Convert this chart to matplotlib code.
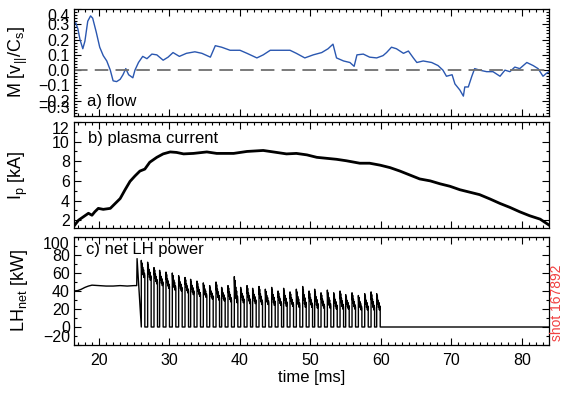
import numpy as np
import matplotlib
matplotlib.use("Agg")
import matplotlib.pyplot as plt
from matplotlib.ticker import MultipleLocator

# ---- data ----
# a) flow, Mach number
flow_t = [16.45, 16.7, 17.0, 17.3, 17.7, 18.0, 18.4, 18.8, 19.1, 19.6,
          20.1, 20.6, 21.1, 21.6, 22.0, 22.5, 23.0, 23.4, 23.8, 24.2,
          24.8, 25.1, 25.6, 26.2, 26.8, 27.5, 28.2, 29.1, 29.8, 30.5,
          31.4, 32.4, 33.6, 34.6, 35.8, 36.5, 37.4, 38.6, 40.0, 41.0,
          42.4, 43.3, 44.3, 45.7, 47.1, 48.0, 49.2, 50.4, 51.6, 52.5,
          53.2, 53.7, 54.7, 55.6, 56.2, 56.6, 57.5, 58.4, 59.4, 60.3,
          60.8, 61.5, 62.2, 63.2, 63.9, 64.6, 65.1, 66.0, 67.2, 68.1,
          68.8, 69.3, 70.1, 70.5, 71.2, 71.7, 71.9, 72.4, 72.9, 73.3,
          74.0, 75.0, 75.9, 76.9, 77.6, 78.3, 79.0, 79.7, 80.7, 81.6,
          82.3, 83.0, 83.5, 83.85]
flow_m = [0.30, 0.31, 0.27, 0.20, 0.14, 0.19, 0.32, 0.355, 0.34, 0.25,
          0.15, 0.095, 0.06, 0.0, -0.07, -0.075, -0.06, -0.03, 0.01, -0.03,
          -0.05, 0.0, 0.05, 0.09, 0.075, 0.105, 0.10, 0.065, 0.085, 0.115,
          0.09, 0.11, 0.12, 0.11, 0.085, 0.16, 0.15, 0.13, 0.13, 0.11,
          0.08, 0.10, 0.13, 0.13, 0.13, 0.11, 0.08, 0.10, 0.115, 0.14,
          0.17, 0.08, 0.06, 0.05, 0.025, 0.10, 0.105, 0.085, 0.08, 0.095,
          0.115, 0.15, 0.14, 0.11, 0.125, 0.08, 0.05, 0.06, 0.05, 0.03,
          0.0, -0.04, -0.03, -0.09, -0.13, -0.17, -0.11, -0.11, -0.04, 0.01,
          0.0, -0.01, -0.01, -0.04, 0.0, -0.01, 0.02, 0.01, 0.05, 0.03,
          0.01, -0.04, -0.02, -0.01]

# b) plasma current [kA]
ip_t = [16.45, 17.1, 17.8, 18.5, 19.0, 19.4, 19.9, 20.6, 21.6, 22.3,
        23.0, 23.7, 24.4, 25.1, 25.8, 26.5, 27.2, 28.2, 29.1, 30.1,
        31.0, 32.0, 33.4, 35.3, 36.7, 39.1, 41.0, 43.3, 45.2, 46.6,
        48.0, 49.5, 50.9, 52.3, 53.7, 55.1, 57.0, 58.4, 59.9, 61.3,
        62.7, 64.1, 65.5, 67.0, 68.4, 69.8, 71.2, 72.6, 74.0, 75.5,
        76.9, 78.3, 79.7, 81.1, 82.6, 83.85]
ip_ka = [1.4, 2.0, 2.35, 2.7, 2.5, 2.85, 3.2, 3.1, 3.2, 3.7,
         4.2, 5.1, 5.95, 6.5, 7.0, 7.2, 7.9, 8.4, 8.75, 8.95,
         8.9, 8.75, 8.8, 8.95, 8.8, 8.8, 9.0, 9.1, 8.9, 8.75,
         8.8, 8.65, 8.4, 8.3, 8.2, 8.05, 7.8, 7.8, 7.6, 7.35,
         7.0, 6.6, 6.2, 6.0, 5.7, 5.45, 5.1, 4.85, 4.6, 4.15,
         3.7, 3.3, 2.85, 2.45, 2.1, 1.5]

# c) net LH power [kW]: steady part, then modulated pulses
lh_pre_t = [16.45, 17.0, 17.5, 18.0, 18.5, 19.0, 20.0, 21.0, 22.0, 23.0,
            24.0, 25.0, 25.35, 25.4, 25.95]
lh_pre_kw = [40, 40.5, 42, 44, 45.5, 46.5, 46, 45.5, 45.5, 46,
             45.5, 46, 46, 76, 8]
pulse_on = [26.0, 26.9, 27.8, 28.6, 29.5, 30.4, 31.3, 32.2, 33.0, 33.9,
            34.8, 35.7, 36.6, 37.4, 38.3, 39.2, 40.1, 41.0, 41.8, 42.7,
            43.6, 44.5, 45.4, 46.2, 47.1, 48.0, 48.9, 49.8, 50.6, 51.5,
            52.4, 53.3, 54.2, 55.0, 55.9, 56.8, 57.7, 58.6, 59.4]
pulse_peak = [74, 72, 66, 63, 61, 60, 57, 55, 53, 51,
              49, 46, 50, 44, 46, 56, 44, 46, 43, 45,
              42, 44, 40, 43, 39, 42, 45, 40, 42, 38,
              41, 38, 40, 36, 38, 35, 37, 39, 37]
pulse_base = [55, 52, 48, 46, 43, 41, 40, 38, 36, 34,
              33, 31, 30, 29, 28, 27, 27, 26, 26, 25,
              25, 24, 24, 23, 23, 22, 22, 22, 21, 21,
              21, 20, 20, 20, 20, 19, 19, 19, 19]
pulse_len = 0.5
lh_end_t = 83.85

# shape of one RF pulse (time fraction of pulse, level between base and peak)
shape_dt = [0.0, 0.10, 0.18, 0.28, 0.40, 0.52, 0.64, 0.76, 0.88, 1.0]
shape_lv = [1.0, 0.55, 0.85, 0.35, 0.6, 0.15, 0.45, 0.0, 0.25, 0.1]

lh_t = list(lh_pre_t)
lh_p = list(lh_pre_kw)
for t0, pk, bs in zip(pulse_on, pulse_peak, pulse_base):
    lh_t.append(t0)
    lh_p.append(0)
    for f, lv in zip(shape_dt, shape_lv):
        lh_t.append(t0 + f * pulse_len)
        lh_p.append(bs + lv * (pk - bs))
    lh_t.append(t0 + pulse_len)
    lh_p.append(0)
lh_t.append(lh_end_t)
lh_p.append(0)

# ---- figure ----
plt.rcParams['font.family'] = ['Liberation Sans', 'DejaVu Sans']
plt.rcParams['font.size'] = 12
plt.rcParams['mathtext.fontset'] = 'custom'
plt.rcParams['mathtext.rm'] = 'Liberation Sans'
plt.rcParams['mathtext.it'] = 'Liberation Sans'

fig = plt.figure(figsize=(5.68, 3.94), dpi=100)
W, H = 568.0, 394.0
left, right = 74, 549


def make_ax(top, bottom):
    return fig.add_axes([left / W, 1 - bottom / H, (right - left) / W, (bottom - top) / H])


ax1 = make_ax(9, 116)
ax2 = make_ax(122, 228)
ax3 = make_ax(237, 345)

ax1.plot(flow_t, flow_m, color='#2a57b0', lw=1.0)
ax1.axhline(0, color='#707070', lw=1.3, ls=(0, (7.5, 4)))
ax1.set_ylim(-0.3, 0.4)
ax1.yaxis.set_major_locator(MultipleLocator(0.1))
ax1.yaxis.set_minor_locator(MultipleLocator(0.02))
ax1.set_ylabel(r'M [v$_{||}$/C$_s$]', fontsize=13)
ax1.text(0.027, 0.135, 'a) flow', transform=ax1.transAxes, va='center', ha='left')

ax2.plot(ip_t, ip_ka, color='black', lw=2.0)
ax2.set_ylim(1.2, 12)
ax2.yaxis.set_major_locator(MultipleLocator(2))
ax2.yaxis.set_minor_locator(MultipleLocator(1))
ax2.set_ylabel(r'I$_p$ [kA]', fontsize=13)
ax2.text(0.03, 0.846, 'b) plasma current', transform=ax2.transAxes, va='center', ha='left')

ax3.plot(lh_t, lh_p, color='black', lw=1.0)
ax3.set_ylim(-20, 100)
ax3.yaxis.set_major_locator(MultipleLocator(20))
ax3.yaxis.set_minor_locator(MultipleLocator(10))
ax3.set_ylabel(r'LH$_{net}$ [kW]', fontsize=13)
ax3.text(0.025, 0.886, 'c) net LH power', transform=ax3.transAxes, va='center', ha='left')
ax3.set_xlabel('time [ms]', labelpad=1)

for ax in (ax1, ax2, ax3):
    ax.set_xlim(16.45, 83.85)
    ax.xaxis.set_major_locator(MultipleLocator(10))
    ax.xaxis.set_minor_locator(MultipleLocator(1))
    ax.tick_params(which='both', direction='in', top=True, right=True, width=0.8,
                   labelsize=11.5)
    ax.tick_params(which='major', length=5)
    ax.tick_params(which='minor', length=2.5)
    ax.tick_params(axis='y', pad=3)
    ax.tick_params(axis='x', pad=6)
    ax.yaxis.set_label_coords(-0.093, 0.5)
    for s in ax.spines.values():
        s.set_linewidth(0.9)

ax1.tick_params(labelbottom=False)
ax2.tick_params(labelbottom=False)

# crowded end labels sit inside the axis range
fig.canvas.draw()
for ax in (ax1, ax2, ax3):
    labs = [l for l in ax.get_yticklabels() if l.get_text()]
    lo, hi = ax.get_ylim()
    for l in labs:
        y = l.get_position()[1]
        if abs(y - hi) < 1e-6:
            l.set_va('top')
        elif abs(y - lo) < 1e-6:
            l.set_va('bottom')

fig.text(557 / W, 1 - 303 / H, 'shot 167892', rotation=90, color='#f04040',
         fontsize=10, ha='center', va='center')

fig.savefig('out.png', dpi=100)
